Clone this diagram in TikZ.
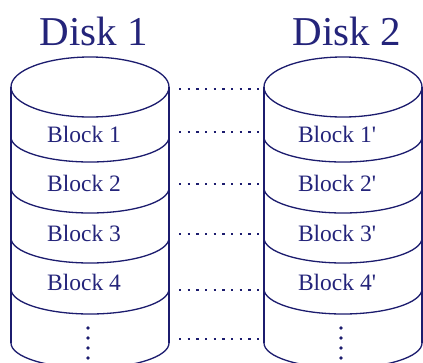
\documentclass[tikz,border=0pt]{standalone}
\usepackage{fontspec}
\setmainfont{Liberation Serif}
\definecolor{drumnavy}{RGB}{28, 28, 110}
\definecolor{textnavy}{RGB}{36, 36, 122}

\newcommand{\diskdrum}[4]{
    \pgfmathsetmacro{\cx}{#1}
    \pgfmathsetmacro{\lx}{#1 - 79}
    \pgfmathsetmacro{\hx}{#1 + 79}
    \node[title] (#2title) at (\cx+4, -45) {#3};
    \draw[drum] (\cx, -87) ellipse [x radius=79pt, y radius=30pt];
    \draw[drum] (\lx, -87) -- (\lx, -343);
    \draw[drum] (\hx, -87) -- (\hx, -343);
    \foreach \y in {137, 188, 238, 289, 343} {
        \draw[drum] (\lx, -\y) arc [start angle=180, end angle=360, x radius=79pt, y radius=25pt];
    }
    \foreach \k in {1,...,4} {
        \node[blocklabel] (#2b\k) at (\cx-6, -142-49.5*\k+49.5) {Block \k#4};
    }
    \draw[vdots] (\cx-2, -328) -- (\cx-2, -370);
    % side points for the links
    \foreach \k/\y in {1/89, 2/132, 3/184, 4/234, 5/290, 6/339} {
        \coordinate (#2w\k) at (\lx, -\y);
        \coordinate (#2e\k) at (\hx, -\y);
    }
}

\begin{document}
\begin{tikzpicture}[x=1pt, y=1pt,
        drum/.style={line width=1.3pt, draw=drumnavy},
        title/.style={anchor=base, text=textnavy, font=\fontsize{41}{48}\selectfont, inner sep=0pt},
        blocklabel/.style={anchor=base, text=textnavy, font=\fontsize{23.5}{28}\selectfont, inner sep=0pt},
        vdots/.style={line width=3.6pt, draw=drumnavy, line cap=round, dash pattern=on 0pt off 10pt},
        link/.style={line width=2.6pt, draw=drumnavy, dash pattern=on 2.4pt off 6.27pt, shorten <=10pt, shorten >=5pt}
    ]
    \clip (0, 0) rectangle (423, -362);
    \fill[white] (0, 0) rectangle (423, -362);
    \diskdrum{90}{dA}{Disk 1}{}
    \diskdrum{343}{dB}{Disk 2}{\textquotesingle}
    \foreach \k in {1,...,6} {
        \draw[link] (dAe\k) -- (dBw\k);
    }
\end{tikzpicture}
\end{document}
